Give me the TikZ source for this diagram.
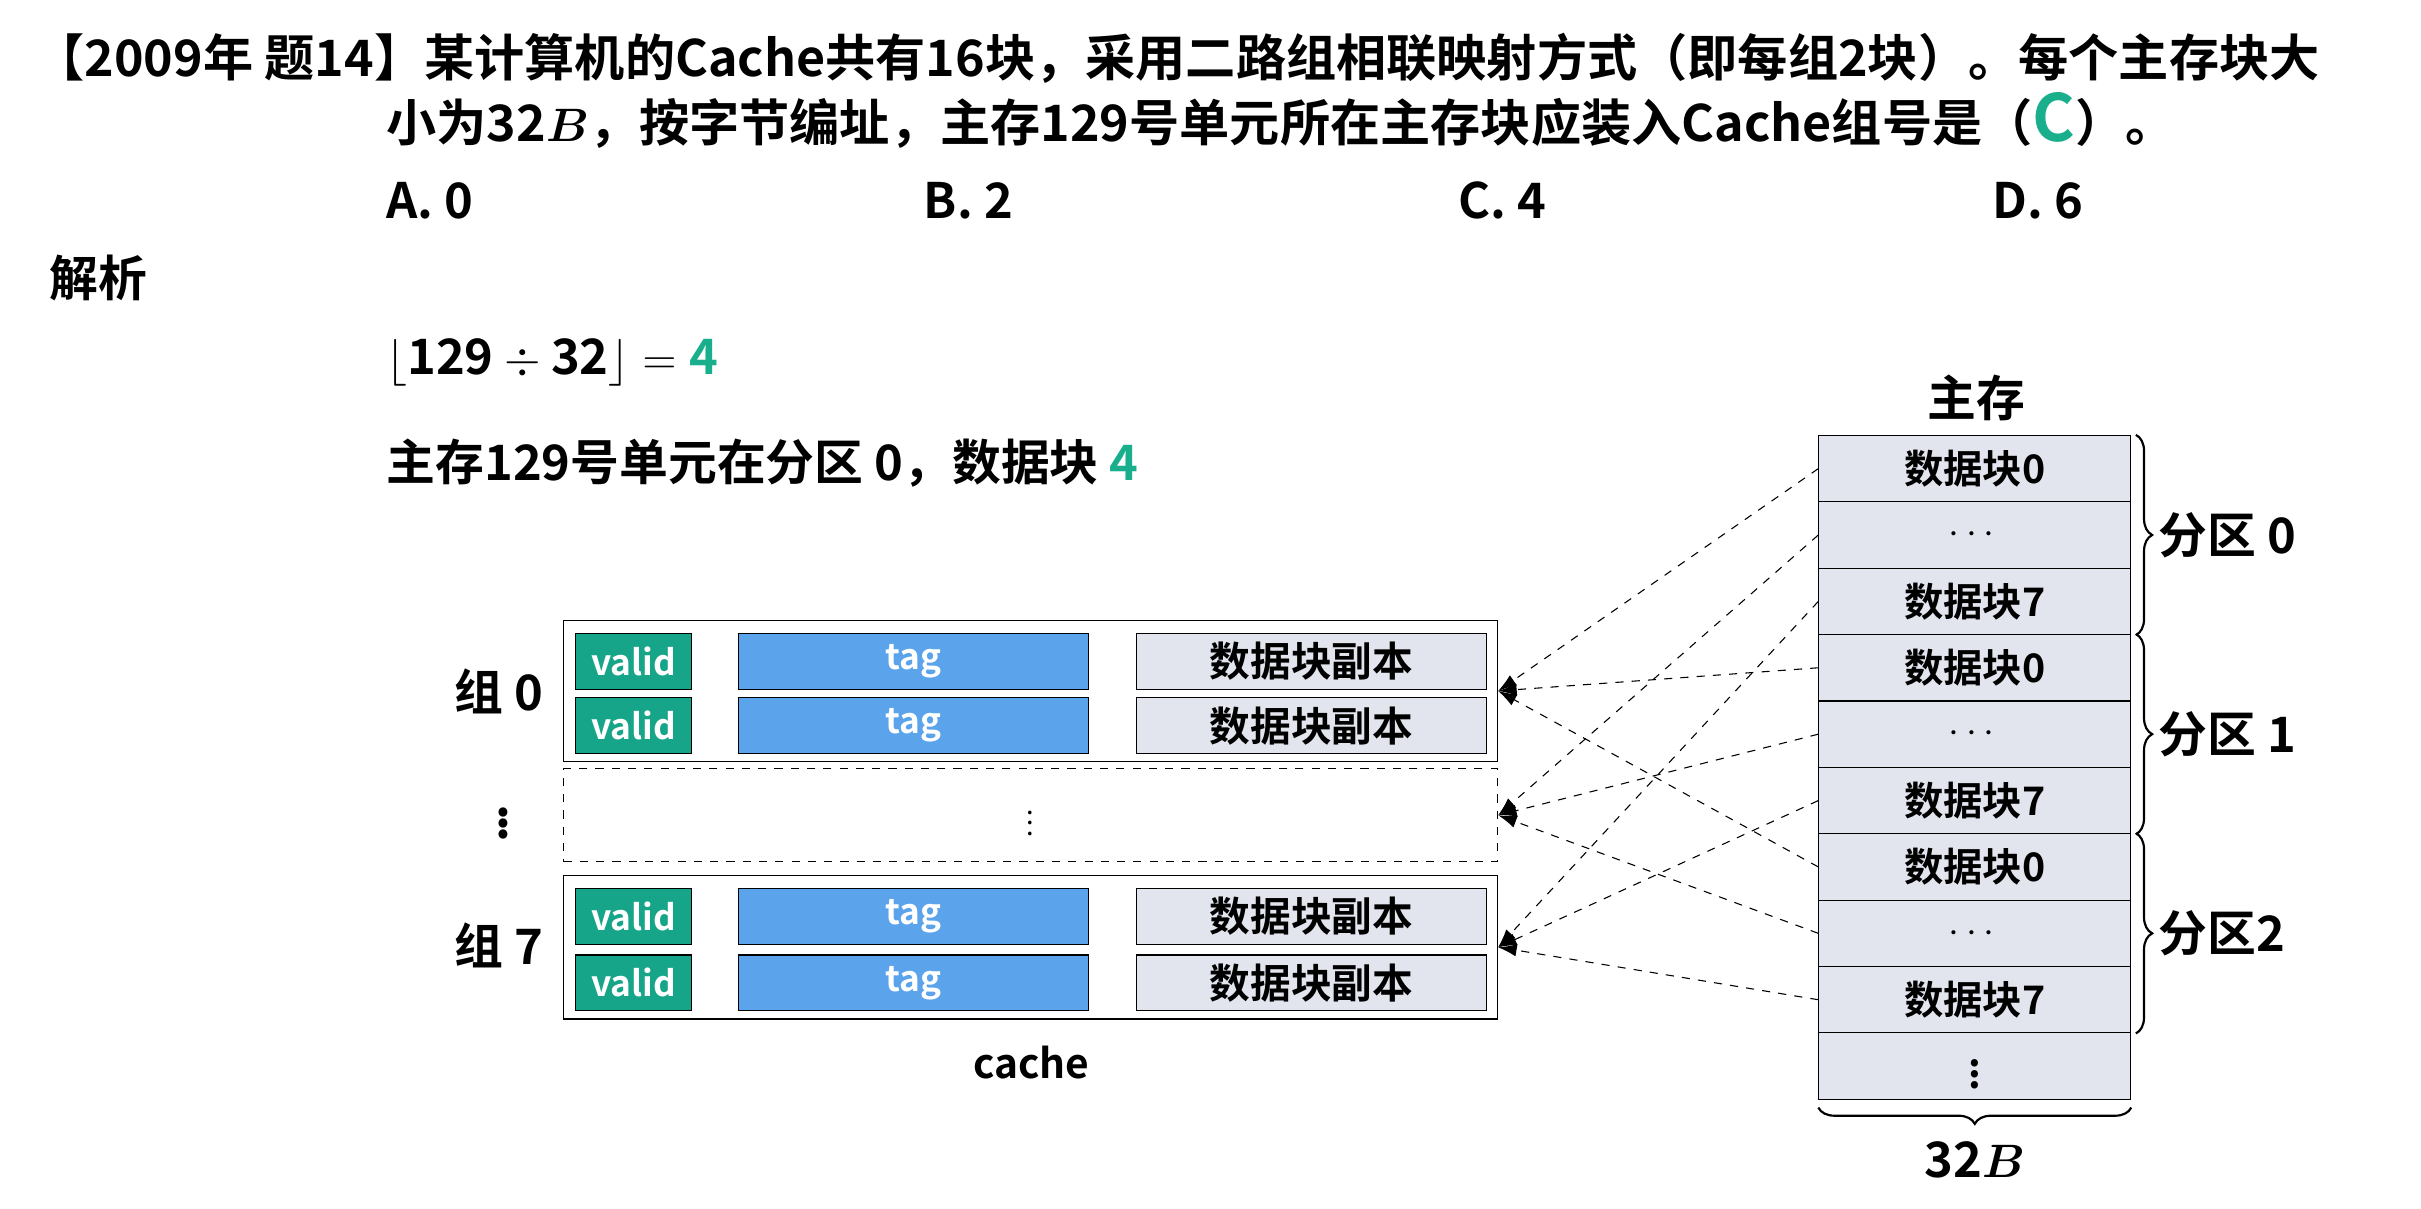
\documentclass[tikz,border=0pt]{standalone}
\usepackage{amsmath, bm}
\usepackage{fontspec}
\setmainfont{Noto Sans CJK SC}[BoldFont={Noto Sans CJK SC Bold}]
\usetikzlibrary{positioning, arrows.meta, decorations.pathreplacing}
\definecolor{ansgreen}{HTML}{1AAF8C}
\definecolor{validgreen}{HTML}{17A589}
\definecolor{tagblue}{HTML}{5BA3EA}
\definecolor{cellgray}{HTML}{E3E5EE}
\tikzset{
	% text lines
	txt/.style={anchor=west, inner sep=0pt, font=\bfseries\fontsize{18}{20}\selectfont},
	% main memory rows
	memrow/.style={draw, fill=cellgray, minimum width=4.04cm, minimum height=0.86cm,
		inner sep=0pt, font=\bfseries\fontsize{14.5}{16}\selectfont},
	% cache cells
	valid/.style={draw, fill=validgreen, text=white, minimum width=1.5cm, minimum height=0.72cm,
		inner sep=0pt, font=\bfseries\fontsize{13}{15}\selectfont},
	tag/.style={valid, fill=tagblue, minimum width=4.54cm},
	copy/.style={valid, fill=cellgray, text=black, minimum width=4.54cm, font=\bfseries\fontsize{15}{17}\selectfont},
	map/.style={dashed, thin, -{Latex[length=2.4mm, width=1.6mm]}},
	brc/.style={decorate, decoration={brace, amplitude=6pt}, thick}
}
\begin{document}
\begin{tikzpicture}[x=0.02cm, y=-0.02cm]
	\useasboundingbox (0,0) rectangle (1568,783);
	%% question
	\node [txt, font=\bfseries\fontsize{18.5}{20}\selectfont] (q1) at (22,38) {【2009年 题14】某计算机的Cache共有16块，采用二路组相联映射方式（即每组2块）。每个主存块大};
	\node [txt, font=\bfseries\fontsize{18.5}{20}\selectfont] (q2) at (250,78) {小为$\mathbf{32}\bm{B}$，按字节编址，主存129号单元所在主存块应装入Cache组号是（\textcolor{ansgreen}{\fontsize{24}{24}\selectfont C}）。};
	\node [txt] (oa) at (250,130) {A. 0};
	\node [txt] (ob) at (598,130) {B. 2};
	\node [txt] (oc) at (944,130) {C. 4};
	\node [txt] (od) at (1290,130) {D. 6};
	\node [txt] (jx) at (32,180) {解析};
	\node [txt] (eq) at (250,235) {$\lfloor\mathbf{129\div 32}\rfloor=\mathbf{\textcolor{ansgreen}{4}}$};
	\node [txt] (ans) at (250,300) {主存129号单元在分区 0，数据块 \textcolor{ansgreen}{4}};
	
	%% main memory
	\node [txt, anchor=center] (mem) at (1280,258) {主存};
	\foreach \i/\t in {0/数据块0, 1/$\cdots$, 2/数据块7, 3/数据块0, 4/$\cdots$, 5/数据块7, 6/数据块0, 7/$\cdots$, 8/数据块7, 9/$\vdots$} {
		\node [memrow] (m\i) at (1279,303.5+43*\i) {\t};
	}
	\draw [brc] ([xshift=0.06cm]m0.north east) -- ([xshift=0.06cm]m2.south east) node [midway, right=8pt, txt] (p0) {分区 0};
	\draw [brc] ([xshift=0.06cm]m3.north east) -- ([xshift=0.06cm]m5.south east) node [midway, right=8pt, txt] (p1) {分区 1};
	\draw [brc] ([xshift=0.06cm]m6.north east) -- ([xshift=0.06cm]m8.south east) node [midway, right=8pt, txt] (p2) {分区2};
	\draw [brc] ([yshift=-0.1cm]m9.south east) -- ([yshift=-0.1cm]m9.south west) node [midway, below=12pt, txt, anchor=north] (bw) {$\mathbf{32}\bm{B}$};
	
	%% cache
	\node [draw, minimum width=12.1cm, minimum height=1.82cm, inner sep=0pt] (g0) at (667.5,447.5) {};
	\node [draw, dashed, minimum width=12.1cm, minimum height=1.2cm, inner sep=0pt] (gd) at (667.5,528) {$\vdots$};
	\node [draw, minimum width=12.1cm, minimum height=1.86cm, inner sep=0pt] (g7) at (667.5,613.5) {};
	\foreach \r/\y in {a/428.5, b/470, c/593.5, d/636.5} {
		\node [valid] (v\r) at (410.5,\y) {valid};
		\node [tag] (t\r) at (591.5,\y) {tag};
		\node [copy] (c\r) at (849.5,\y) {数据块副本};
	}
	\node [txt, anchor=east] (l0) at (352,448) {组 0};
	\node [txt, anchor=center] (ld) at (326,528) {$\vdots$};
	\node [txt, anchor=east] (l7) at (352,612) {组 7};
	\node [font=\bfseries\fontsize{15}{17}\selectfont] (cl) at (668,688) {cache};
	
	%% mapping
	\foreach \i in {0,3,6} \draw [map] (m\i.west) -- (g0.east);
	\foreach \i in {1,4,7} \draw [map] (m\i.west) -- (gd.east);
	\foreach \i in {2,5,8} \draw [map] (m\i.west) -- (g7.east);
\end{tikzpicture}
\end{document}
